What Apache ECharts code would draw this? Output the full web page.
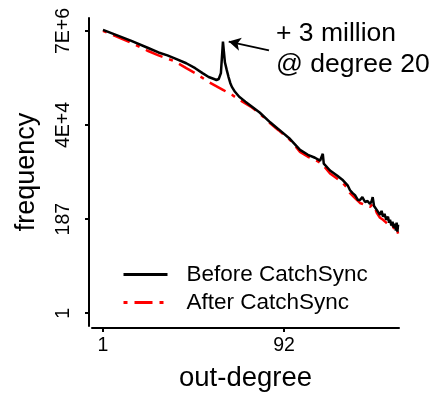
<!DOCTYPE html>
<html><head><meta charset="utf-8">
<script src="https://cdn.jsdelivr.net/npm/echarts@6/dist/echarts.min.js"></script>
<style>html,body{margin:0;padding:0;background:#fff}#c{width:432px;height:397px}</style>
</head><body><div id="c"></div>
<script>
const degreesBefore = [1,2,3,4,5,6,8,10,12,14,16,17,18,19,20,21,22,23,24,25,27,30,35,40,50,65,80,107,137,167,199,226,236,242,248,256,290,345,401,421,450,478,510,541,583,613,650,695,740,787,820,841,870,900,931,970,1010,1050,1089,1130,1180,1233,1270,1297,1340,1380,1420,1469,1500,1530,1560,1586];
const freqBefore = [7.0e6,3.84e6,2.62e6,1.99e6,1.69e6,1.43e6,1.09e6,8.30e5,6.31e5,5.07e5,4.54e5,4.30e5,4.54e5,6.31e5,3.64e6,1.15e6,7.43e5,5.07e5,3.65e5,2.93e5,2.23e5,1.69e5,1.29e5,1.03e5,7.06e4,4.09e4,2.79e4,1.61e4,8.83e3,6.71e3,5.70e3,4.83e3,4.58e3,7.10e3,4.10e3,3.68e3,2.80e3,2.13e3,1620,1531,1231,936,795,712,542,542,638,486,513,435,513,638,390,412,313,349,238,297,214,252,181,214,154,181,131,162,117,146,99,154,94,138];
const degreesAfter = [1,2,3,4,6,8,10,14,20,25,30,40,50,65,80,107,137,167,199,226,256,290,345,401,450,478,541,613,695,787,841,900,931,1010,1089,1180,1233,1297,1380,1469,1530,1586];
const freqAfter = [6.64e6,3.44e6,2.22e6,1.69e6,1.22e6,8.30e5,6.31e5,3.86e5,2.49e5,1.89e5,1.44e5,9.8e4,6.68e4,3.87e4,2.64e4,1.53e4,7.91e3,6.01e3,5.10e3,4.33e3,3.30e3,2.37e3,1.80e3,1374,1045,795,604,460,412,369,435,331,266,202,181,154,162,124,131,99,111,84];
const seriesNames = ['Before CatchSync', 'After CatchSync'];
const xTickValues = [1, 92];
const xTickLabels = ['1', '92'];
const yTickValues = [1, 187.4, 35119, 6581256];
const yTickLabels = ['1', '187', '4E+4', '7E+6'];
const arrowFrom = [63.1, 2.22e6];
const arrowTo = [23.1, 3.64e6];
const annotationText = '+ 3 million\n@ degree 20';

const FONT = 'Liberation Sans, Arial, sans-serif';
function pickLabel(vals, labels, v) {
  let best = 0, bd = Infinity;
  vals.forEach((t, i) => { const d = Math.abs(Math.log(t) - Math.log(v)); if (d < bd) { bd = d; best = i; } });
  return labels[best];
}
const chart = echarts.init(document.getElementById('c'), null, {renderer: 'canvas'});
chart.setOption({
  animation: false,
  backgroundColor: '#fff',
  grid: {left: 92, right: 33, top: 18, bottom: 66, containLabel: false},
  legend: {
    data: seriesNames,
    orient: 'vertical',
    left: 122, top: 263,
    itemWidth: 44, itemHeight: 14, itemGap: 5,
    padding: 0,
    itemStyle: {opacity: 0},
    lineStyle: {width: 3},
    textStyle: {fontSize: 22.5, fontFamily: FONT, color: '#000', padding: [0, 0, 0, 14]}
  },
  xAxis: {
    type: 'log', logBase: 92, min: 0.76, max: 1623, offset: 2,
    name: 'out-degree', nameLocation: 'middle', nameGap: 36,
    nameTextStyle: {fontSize: 27.5, fontFamily: FONT, color: '#000'},
    axisLine: {lineStyle: {color: '#000', width: 2}},
    axisTick: {show: true, length: 4, lineStyle: {color: '#000', width: 2}, customValues: xTickValues},
    axisLabel: {customValues: xTickValues, margin: 8, fontSize: 19.5, fontFamily: FONT, color: '#000',
      formatter: v => pickLabel(xTickValues, xTickLabels, v)},
    minorTick: {show: false}, splitLine: {show: false}
  },
  yAxis: {
    type: 'log', logBase: 187.4, min: 0.491, max: 1.352e7, offset: 3,
    name: 'frequency', nameLocation: 'middle', nameGap: 48.5,
    nameTextStyle: {fontSize: 27, fontFamily: FONT, color: '#000'},
    axisLine: {show: true, lineStyle: {color: '#000', width: 2}},
    axisTick: {show: true, length: 4, lineStyle: {color: '#000', width: 2}, customValues: yTickValues},
    axisLabel: {customValues: yTickValues, rotate: 90, margin: 15, fontSize: 19.5, fontFamily: FONT, color: '#000',
      formatter: v => pickLabel(yTickValues, yTickLabels, v)},
    minorTick: {show: false}, splitLine: {show: false}
  },
  series: [
    {
      name: seriesNames[0], type: 'line', z: 3, symbol: 'none', showSymbol: false,
      data: degreesBefore.map((d, i) => [d, freqBefore[i]]),
      lineStyle: {color: '#000', width: 2.5},
      itemStyle: {color: '#000'},
      markLine: {
        silent: true, symbol: ['none', 'arrow'], symbolSize: [10, 12],
        label: {show: false},
        lineStyle: {color: '#000', width: 1.8, type: 'solid'},
        data: [[{coord: arrowFrom}, {coord: arrowTo}]]
      }
    },
    {
      name: seriesNames[1], type: 'line', z: 2, symbol: 'none', showSymbol: false,
      data: degreesAfter.map((d, i) => [d, freqAfter[i]]),
      lineStyle: {color: '#ff0000', width: 2.5, type: [4, 7, 18, 7]},
      itemStyle: {color: '#ff0000'}
    }
  ],
  graphic: [{
    type: 'text', left: 276, top: 18,
    style: {text: annotationText, font: '26.5px ' + FONT, fill: '#000', lineHeight: 31}
  }]
});
</script></body></html>
